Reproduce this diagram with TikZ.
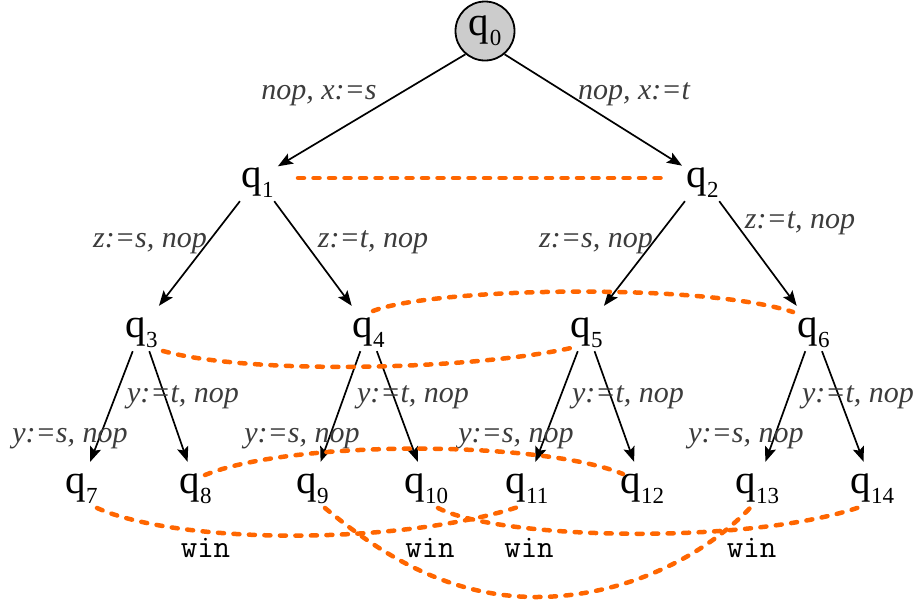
\documentclass[tikz,border=0pt]{standalone}
\usepackage{fontspec}
\setmainfont{Liberation Serif}
\usetikzlibrary{arrows.meta}
\definecolor{dashorange}{RGB}{255,102,0}
\definecolor{labelgray}{RGB}{60,60,60}
\definecolor{startgray}{RGB}{204,204,204}
\newcommand\qsub[1]{q\kern0.5pt\raisebox{-10pt}{\fontsize{23}{23}\selectfont #1}}
\begin{document}
\begin{tikzpicture}[x=1pt,y=-1pt,
  state/.style={inner sep=4pt, font=\fontsize{41}{41}\selectfont, anchor=base west, text height=27pt, text depth=10pt},
  startstate/.style={circle, draw=black, line width=1.8pt, fill=startgray, minimum size=59pt, inner sep=0pt, font=\fontsize{41}{41}\selectfont},
  trans/.style={draw=black, line width=1.7pt, -{Stealth[length=15pt,width=11.5pt,inset=3pt]}},
  lab/.style={font=\fontsize{30}{30}\selectfont\itshape, text=labelgray, inner sep=0pt, anchor=base},
  wintext/.style={font=\fontsize{32}{32}\selectfont\ttfamily, inner sep=0pt, anchor=base},
  link/.style={draw=dashorange, line width=4.5pt, dash pattern=on 6pt off 9.5pt, line cap=round}
]
\useasboundingbox (0,0) rectangle (923,606);

% states
\node[startstate] (q0) at (485,31) {\qsub{0}};
\node[state] (q1) at (237,187) {\qsub{1}};
\node[state] (q2) at (682,187) {\qsub{2}};
\node[state] (q3) at (121,337) {\qsub{3}};
\node[state] (q4) at (348,337) {\qsub{4}};
\node[state] (q5) at (566,337) {\qsub{5}};
\node[state] (q6) at (793,337) {\qsub{6}};
\node[state] (q7) at (61,493) {\qsub{7}};
\node[state] (q8) at (175,493) {\qsub{8}};
\node[state] (q9) at (292,493) {\qsub{9}};
\node[state] (q10) at (400,493) {\qsub{10}};
\node[state] (q11) at (501,493) {\qsub{11}};
\node[state] (q12) at (616,493) {\qsub{12}};
\node[state] (q13) at (731,493) {\qsub{13}};
\node[state] (q14) at (846,493) {\qsub{14}};

% transitions
\draw[trans] (q0.-130) -- (q1);
\draw[trans] (q0.-50) -- (q2);
\draw[trans] (q1) -- (q3);
\draw[trans] (q1) -- (q4);
\draw[trans] (q2) -- (q5);
\draw[trans] (q2) -- (q6);
\draw[trans] (q3) -- (q7);
\draw[trans] (q3) -- (q8);
\draw[trans] (q4) -- (q9);
\draw[trans] (q4) -- (q10);
\draw[trans] (q5) -- (q11);
\draw[trans] (q5) -- (q12);
\draw[trans] (q6) -- (q13);
\draw[trans] (q6) -- (q14);

% labels
\node[lab] (l01) at (319,99) {nop, x:=s};
\node[lab] (l02) at (634,99) {nop, x:=t};
\node[lab] (l13) at (150,247) {z:=s, nop};
\node[lab] (l14) at (373,247) {z:=t, nop};
\node[lab] (l25) at (596,247) {z:=s, nop};
\node[lab] (l26) at (800,228) {z:=t, nop};
\node[lab] (l37) at (70,442) {y:=s, nop};
\node[lab] (l38) at (183,402) {y:=t, nop};
\node[lab] (l49) at (302,442) {y:=s, nop};
\node[lab] (l410) at (413,402) {y:=t, nop};
\node[lab] (l511) at (516,442) {y:=s, nop};
\node[lab] (l512) at (628,402) {y:=t, nop};
\node[lab] (l613) at (746,442) {y:=s, nop};
\node[lab] (l614) at (858,402) {y:=t, nop};

% win markers
\node[wintext] (w8) at (205.5,557) {win};
\node[wintext] (w10) at (430,557) {win};
\node[wintext] (w11) at (529,557) {win};
\node[wintext] (w13) at (751.5,557) {win};

% link end points
\coordinate (e1) at (298,178);
\coordinate (e2) at (661,178);
\coordinate (e4) at (373,311);
\coordinate (e6) at (793,312);
\coordinate (e3) at (163,351);
\coordinate (e5) at (571,348);
\coordinate (e8) at (205,475);
\coordinate (e12) at (623,474);
\coordinate (e7) at (97,508);
\coordinate (e11) at (518,507);
\coordinate (e10) at (438,508);
\coordinate (e14) at (860,507);
\coordinate (e9) at (325,508);
\coordinate (e13) at (750,508);
\coordinate (m913) at (536,597);

% indistinguishability links
\draw[link] (e1) -- (e2);
\draw[link] (e4) .. controls (430,288) and (700,282) .. (e6);
\draw[link] (e3) .. controls (250,375) and (470,370) .. (e5);
\draw[link] (e8) .. controls (290,440) and (540,440) .. (e12);
\draw[link] (e7) .. controls (180,545) and (400,545) .. (e11);
\draw[link] (e10) .. controls (500,540) and (750,545) .. (e14);
\draw[link] (e9) .. controls (370,545) and (440,597) .. (m913) .. controls (620,597) and (700,560) .. (e13);
\end{tikzpicture}
\end{document}
